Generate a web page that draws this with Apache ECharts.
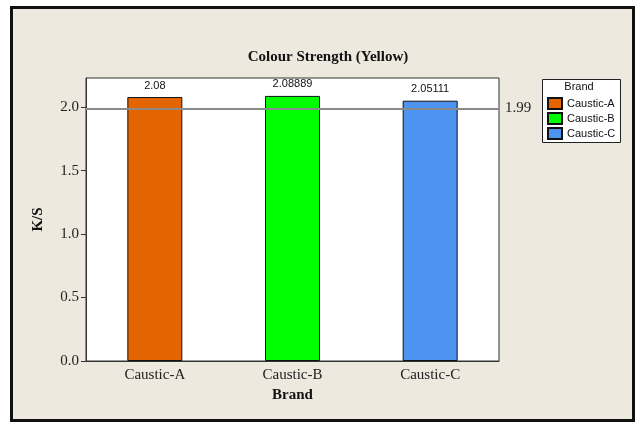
<!DOCTYPE html>
<html>
<head>
<meta charset="utf-8">
<script src="https://cdn.jsdelivr.net/npm/echarts@6/dist/echarts.min.js"></script>
<style>
  html, body { margin: 0; padding: 0; background: #fff; }
  #main { width: 639px; height: 424px; }
</style>
</head>
<body>
<div id="main"></div>
<script>
var categories = ['Caustic-A', 'Caustic-B', 'Caustic-C'];
var values = [2.08, 2.08889, 2.05111];
var colors = ['#E46400', '#00FF00', '#4D94F0'];
var refValue = 1.99;
var yTicks = [0, 0.5, 1, 1.5, 2];

var serif = 'Liberation Serif';
var sans = 'Liberation Sans';

var myChart = echarts.init(document.getElementById('main'));

// one series per brand so the legend can list them, stacked so bars stay centred
var series = categories.map(function (name, i) {
    return {
        name: name,
        type: 'bar',
        stack: 'all',
        barWidth: 55,
        z: 3,
        itemStyle: { color: colors[i], borderColor: '#111', borderWidth: 1 },
        label: {
            show: true,
            position: 'top',
            distance: 6,
            fontFamily: sans,
            fontSize: 11,
            color: '#111',
            formatter: function (p) { return String(p.value); }
        },
        data: categories.map(function (c, j) { return j === i ? values[i] : '-'; })
    };
});

// reference line, drawn under the bars
series.push({
    name: 'ref',
    type: 'line',
    z: 1,
    data: [],
    markLine: {
        silent: true,
        symbol: 'none',
        lineStyle: { color: '#8a8a8a', width: 2, type: 'solid' },
        label: {
            position: 'end',
            distance: 6,
            formatter: String(refValue),
            fontFamily: serif,
            fontSize: 15,
            color: '#222'
        },
        data: [{ yAxis: refValue }]
    }
});

var option = {
    backgroundColor: '#ffffff',
    animation: false,
    title: {
        text: 'Colour Strength (Yellow)',
        left: 323,
        top: 45,
        textAlign: 'center',
        textStyle: { fontFamily: serif, fontWeight: 'bold', fontSize: 15, color: '#111' }
    },
    graphic: [
        {
            type: 'rect', z: -10,
            shape: { x: 11.5, y: 7.5, width: 622, height: 413 },
            style: { fill: '#EDE9DF', stroke: '#111', lineWidth: 3 }
        },
        {
            type: 'rect', z: 1,
            shape: { x: 542.5, y: 79.5, width: 78, height: 63 },
            style: { fill: '#ffffff', stroke: '#222', lineWidth: 1 }
        },
        {
            type: 'text', z: 2,
            x: 579, y: 87,
            style: {
                text: 'Brand', fontFamily: sans, fontSize: 11, fill: '#111',
                align: 'center', verticalAlign: 'middle'
            }
        }
    ],
    legend: {
        data: categories,
        orient: 'vertical',
        left: 547,
        top: 97,
        padding: 0,
        itemWidth: 14,
        itemHeight: 11,
        itemGap: 2,
        icon: 'rect',
        textStyle: { fontFamily: sans, fontSize: 11, color: '#111', padding: [0, 0, 0, 0] }
    },
    grid: {
        left: 86,
        right: 140,
        top: 78,
        bottom: 63,
        show: true,
        backgroundColor: '#ffffff',
        borderColor: '#333',
        borderWidth: 1
    },
    xAxis: {
        type: 'category',
        data: categories,
        name: 'Brand',
        nameLocation: 'middle',
        nameGap: 27,
        nameTextStyle: { fontFamily: serif, fontWeight: 'bold', fontSize: 15, color: '#111' },
        axisLine: { lineStyle: { color: '#333' } },
        axisTick: { alignWithLabel: true, length: 5, lineStyle: { color: '#333' } },
        axisLabel: { fontFamily: serif, fontSize: 15, color: '#222', margin: 7 }
    },
    yAxis: {
        type: 'value',
        min: 0,
        max: 2.23,
        name: 'K/S',
        nameLocation: 'middle',
        nameGap: 40,
        nameTextStyle: { fontFamily: serif, fontWeight: 'bold', fontSize: 15, color: '#111' },
        splitLine: { show: false },
        axisLine: { show: true, lineStyle: { color: '#333' } },
        axisTick: { show: true, length: 5, customValues: yTicks, lineStyle: { color: '#333' } },
        axisLabel: {
            fontFamily: serif, fontSize: 15, color: '#222', margin: 7,
            customValues: yTicks,
            formatter: function (v) { return v.toFixed(1); }
        }
    },
    series: series
};

myChart.setOption(option);
</script>
</body>
</html>
